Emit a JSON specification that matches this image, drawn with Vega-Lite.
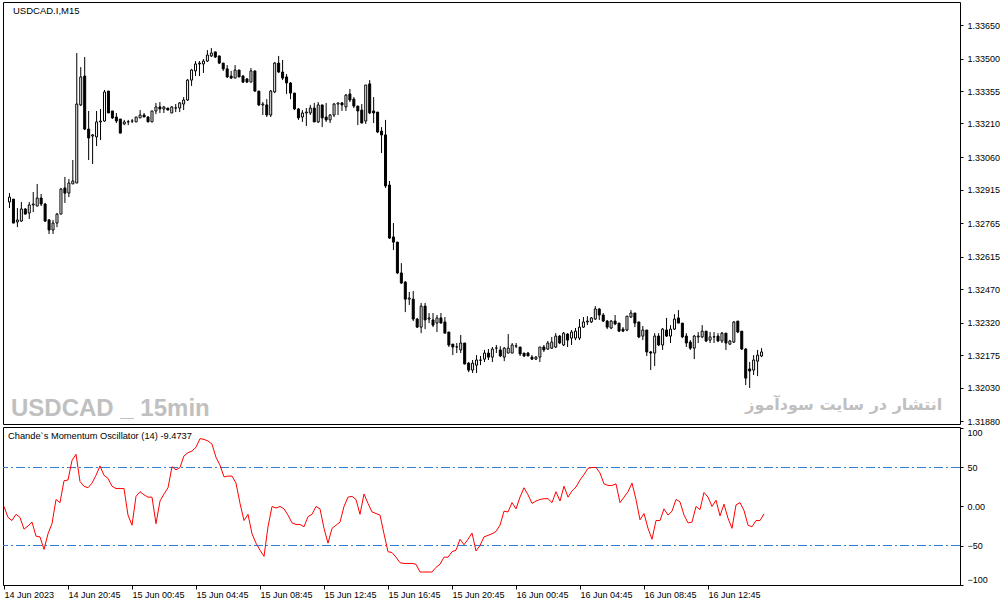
{
"$schema": "https://vega.github.io/schema/vega-lite/v6.json",
"background": "white",
"padding": {"left": 1, "top": 1, "right": 0, "bottom": 0},
"bounds": "flush",
"spacing": 3,
"config": {
  "view": {"stroke": "black", "strokeWidth": 1},
  "font": "Liberation Sans",
  "axis": {"grid": false, "domain": false, "tickColor": "black", "labelColor": "black", "labelFont": "Liberation Sans", "labelFontSize": 9, "title": null, "labelOverlap": false, "tickCount": 30}
},
"datasets": {
"levels": [{"level": 50}, {"level": -50}],
"bars": [
{"t":"2023-06-14T16:45","o":1.32859,"h":1.32899,"l":1.32832,"c":1.32881,"cmo":0},
{"t":"2023-06-14T17:00","o":1.32872,"h":1.32872,"l":1.32765,"c":1.32765,"cmo":-14},
{"t":"2023-06-14T17:15","o":1.32770,"h":1.32832,"l":1.32747,"c":1.32779,"cmo":-18},
{"t":"2023-06-14T17:30","o":1.32774,"h":1.32859,"l":1.32770,"c":1.32828,"cmo":-10},
{"t":"2023-06-14T17:45","o":1.32828,"h":1.32832,"l":1.32805,"c":1.32805,"cmo":-14},
{"t":"2023-06-14T18:00","o":1.32810,"h":1.32859,"l":1.32783,"c":1.32846,"cmo":-29},
{"t":"2023-06-14T18:15","o":1.32846,"h":1.32904,"l":1.32814,"c":1.32850,"cmo":-25},
{"t":"2023-06-14T18:30","o":1.32841,"h":1.32940,"l":1.32841,"c":1.32877,"cmo":-20},
{"t":"2023-06-14T18:45","o":1.32877,"h":1.32895,"l":1.32841,"c":1.32850,"cmo":-38},
{"t":"2023-06-14T19:00","o":1.32850,"h":1.32855,"l":1.32770,"c":1.32774,"cmo":-39},
{"t":"2023-06-14T19:15","o":1.32779,"h":1.32783,"l":1.32716,"c":1.32734,"cmo":-55},
{"t":"2023-06-14T19:30","o":1.32734,"h":1.32779,"l":1.32716,"c":1.32765,"cmo":-35},
{"t":"2023-06-14T19:45","o":1.32765,"h":1.32810,"l":1.32747,"c":1.32805,"cmo":-22},
{"t":"2023-06-14T20:00","o":1.32805,"h":1.32922,"l":1.32805,"c":1.32917,"cmo":9},
{"t":"2023-06-14T20:15","o":1.32922,"h":1.32971,"l":1.32855,"c":1.32899,"cmo":5},
{"t":"2023-06-14T20:30","o":1.32899,"h":1.32962,"l":1.32881,"c":1.32944,"cmo":33},
{"t":"2023-06-14T20:45","o":1.32940,"h":1.33047,"l":1.32940,"c":1.32953,"cmo":34},
{"t":"2023-06-14T21:00","o":1.32944,"h":1.33525,"l":1.32944,"c":1.33297,"cmo":59},
{"t":"2023-06-14T21:15","o":1.33293,"h":1.33462,"l":1.33288,"c":1.33418,"cmo":67},
{"t":"2023-06-14T21:30","o":1.33422,"h":1.33507,"l":1.33181,"c":1.33185,"cmo":32},
{"t":"2023-06-14T21:45","o":1.33185,"h":1.33266,"l":1.33047,"c":1.33145,"cmo":26},
{"t":"2023-06-14T22:00","o":1.33154,"h":1.33163,"l":1.33029,"c":1.33159,"cmo":24},
{"t":"2023-06-14T22:15","o":1.33150,"h":1.33266,"l":1.33109,"c":1.33217,"cmo":30},
{"t":"2023-06-14T22:30","o":1.33217,"h":1.33275,"l":1.33136,"c":1.33221,"cmo":40},
{"t":"2023-06-14T22:45","o":1.33221,"h":1.33360,"l":1.33217,"c":1.33351,"cmo":52},
{"t":"2023-06-14T23:00","o":1.33355,"h":1.33355,"l":1.33257,"c":1.33257,"cmo":40},
{"t":"2023-06-14T23:15","o":1.33266,"h":1.33266,"l":1.33230,"c":1.33235,"cmo":36},
{"t":"2023-06-14T23:30","o":1.33239,"h":1.33257,"l":1.33212,"c":1.33221,"cmo":26},
{"t":"2023-06-14T23:45","o":1.33230,"h":1.33230,"l":1.33167,"c":1.33167,"cmo":23},
{"t":"2023-06-15T00:00","o":1.33208,"h":1.33226,"l":1.33203,"c":1.33217,"cmo":23},
{"t":"2023-06-15T00:15","o":1.33217,"h":1.33226,"l":1.33203,"c":1.33218,"cmo":23},
{"t":"2023-06-15T00:30","o":1.33221,"h":1.33230,"l":1.33212,"c":1.33221,"cmo":-11},
{"t":"2023-06-15T00:45","o":1.33217,"h":1.33239,"l":1.33217,"c":1.33239,"cmo":-24},
{"t":"2023-06-15T01:00","o":1.33235,"h":1.33270,"l":1.33235,"c":1.33248,"cmo":13},
{"t":"2023-06-15T01:15","o":1.33248,"h":1.33257,"l":1.33239,"c":1.33239,"cmo":19},
{"t":"2023-06-15T01:30","o":1.33239,"h":1.33243,"l":1.33217,"c":1.33217,"cmo":15},
{"t":"2023-06-15T01:45","o":1.33217,"h":1.33266,"l":1.33217,"c":1.33266,"cmo":12},
{"t":"2023-06-15T02:00","o":1.33266,"h":1.33302,"l":1.33252,"c":1.33284,"cmo":12},
{"t":"2023-06-15T02:15","o":1.33284,"h":1.33306,"l":1.33257,"c":1.33275,"cmo":-22},
{"t":"2023-06-15T02:30","o":1.33275,"h":1.33288,"l":1.33257,"c":1.33284,"cmo":7},
{"t":"2023-06-15T02:45","o":1.33279,"h":1.33279,"l":1.33270,"c":1.33270,"cmo":16},
{"t":"2023-06-15T03:00","o":1.33257,"h":1.33288,"l":1.33257,"c":1.33284,"cmo":24},
{"t":"2023-06-15T03:15","o":1.33279,"h":1.33297,"l":1.33261,"c":1.33280,"cmo":51},
{"t":"2023-06-15T03:30","o":1.33279,"h":1.33306,"l":1.33261,"c":1.33302,"cmo":47},
{"t":"2023-06-15T03:45","o":1.33297,"h":1.33328,"l":1.33270,"c":1.33315,"cmo":50},
{"t":"2023-06-15T04:00","o":1.33315,"h":1.33409,"l":1.33311,"c":1.33404,"cmo":65},
{"t":"2023-06-15T04:15","o":1.33404,"h":1.33454,"l":1.33378,"c":1.33449,"cmo":69},
{"t":"2023-06-15T04:30","o":1.33445,"h":1.33489,"l":1.33422,"c":1.33476,"cmo":71},
{"t":"2023-06-15T04:45","o":1.33476,"h":1.33489,"l":1.33422,"c":1.33480,"cmo":76},
{"t":"2023-06-15T05:00","o":1.33476,"h":1.33498,"l":1.33436,"c":1.33489,"cmo":87},
{"t":"2023-06-15T05:15","o":1.33489,"h":1.33538,"l":1.33485,"c":1.33516,"cmo":86},
{"t":"2023-06-15T05:30","o":1.33512,"h":1.33547,"l":1.33507,"c":1.33525,"cmo":84},
{"t":"2023-06-15T05:45","o":1.33530,"h":1.33530,"l":1.33503,"c":1.33507,"cmo":80},
{"t":"2023-06-15T06:00","o":1.33512,"h":1.33512,"l":1.33476,"c":1.33480,"cmo":63},
{"t":"2023-06-15T06:15","o":1.33480,"h":1.33480,"l":1.33445,"c":1.33454,"cmo":53},
{"t":"2023-06-15T06:30","o":1.33454,"h":1.33471,"l":1.33413,"c":1.33418,"cmo":38},
{"t":"2023-06-15T06:45","o":1.33422,"h":1.33445,"l":1.33409,"c":1.33413,"cmo":39},
{"t":"2023-06-15T07:00","o":1.33413,"h":1.33471,"l":1.33413,"c":1.33449,"cmo":39},
{"t":"2023-06-15T07:15","o":1.33449,"h":1.33449,"l":1.33418,"c":1.33418,"cmo":30},
{"t":"2023-06-15T07:30","o":1.33422,"h":1.33427,"l":1.33391,"c":1.33395,"cmo":4},
{"t":"2023-06-15T07:45","o":1.33409,"h":1.33413,"l":1.33391,"c":1.33395,"cmo":-18},
{"t":"2023-06-15T08:00","o":1.33395,"h":1.33458,"l":1.33395,"c":1.33445,"cmo":-10},
{"t":"2023-06-15T08:15","o":1.33445,"h":1.33445,"l":1.33351,"c":1.33355,"cmo":-35},
{"t":"2023-06-15T08:30","o":1.33355,"h":1.33355,"l":1.33288,"c":1.33293,"cmo":-47},
{"t":"2023-06-15T08:45","o":1.33293,"h":1.33306,"l":1.33248,"c":1.33297,"cmo":-56},
{"t":"2023-06-15T09:00","o":1.33293,"h":1.33319,"l":1.33239,"c":1.33248,"cmo":-64},
{"t":"2023-06-15T09:15","o":1.33248,"h":1.33360,"l":1.33239,"c":1.33355,"cmo":-26},
{"t":"2023-06-15T09:30","o":1.33351,"h":1.33485,"l":1.33346,"c":1.33480,"cmo":0},
{"t":"2023-06-15T09:45","o":1.33480,"h":1.33512,"l":1.33436,"c":1.33440,"cmo":-2},
{"t":"2023-06-15T10:00","o":1.33440,"h":1.33494,"l":1.33404,"c":1.33413,"cmo":0},
{"t":"2023-06-15T10:15","o":1.33418,"h":1.33431,"l":1.33342,"c":1.33391,"cmo":-3},
{"t":"2023-06-15T10:30","o":1.33391,"h":1.33395,"l":1.33319,"c":1.33346,"cmo":-11},
{"t":"2023-06-15T10:45","o":1.33346,"h":1.33346,"l":1.33270,"c":1.33275,"cmo":-21},
{"t":"2023-06-15T11:00","o":1.33275,"h":1.33279,"l":1.33226,"c":1.33235,"cmo":-23},
{"t":"2023-06-15T11:15","o":1.33239,"h":1.33270,"l":1.33217,"c":1.33257,"cmo":-23},
{"t":"2023-06-15T11:30","o":1.33257,"h":1.33279,"l":1.33199,"c":1.33261,"cmo":-26},
{"t":"2023-06-15T11:45","o":1.33257,"h":1.33293,"l":1.33248,"c":1.33279,"cmo":-13},
{"t":"2023-06-15T12:00","o":1.33279,"h":1.33302,"l":1.33217,"c":1.33217,"cmo":-10},
{"t":"2023-06-15T12:15","o":1.33217,"h":1.33306,"l":1.33212,"c":1.33293,"cmo":0},
{"t":"2023-06-15T12:30","o":1.33293,"h":1.33293,"l":1.33194,"c":1.33235,"cmo":-3},
{"t":"2023-06-15T12:45","o":1.33239,"h":1.33302,"l":1.33217,"c":1.33226,"cmo":-28},
{"t":"2023-06-15T13:00","o":1.33226,"h":1.33252,"l":1.33212,"c":1.33248,"cmo":-47},
{"t":"2023-06-15T13:15","o":1.33248,"h":1.33302,"l":1.33239,"c":1.33297,"cmo":-28},
{"t":"2023-06-15T13:30","o":1.33297,"h":1.33302,"l":1.33248,"c":1.33302,"cmo":-24},
{"t":"2023-06-15T13:45","o":1.33302,"h":1.33306,"l":1.33266,"c":1.33293,"cmo":-20},
{"t":"2023-06-15T14:00","o":1.33284,"h":1.33342,"l":1.33266,"c":1.33337,"cmo":0},
{"t":"2023-06-15T14:15","o":1.33342,"h":1.33364,"l":1.33306,"c":1.33315,"cmo":12},
{"t":"2023-06-15T14:30","o":1.33319,"h":1.33328,"l":1.33279,"c":1.33288,"cmo":13},
{"t":"2023-06-15T14:45","o":1.33288,"h":1.33288,"l":1.33203,"c":1.33266,"cmo":9},
{"t":"2023-06-15T15:00","o":1.33270,"h":1.33297,"l":1.33212,"c":1.33212,"cmo":-10},
{"t":"2023-06-15T15:15","o":1.33221,"h":1.33382,"l":1.33208,"c":1.33382,"cmo":16},
{"t":"2023-06-15T15:30","o":1.33387,"h":1.33404,"l":1.33252,"c":1.33257,"cmo":4},
{"t":"2023-06-15T15:45","o":1.33266,"h":1.33328,"l":1.33212,"c":1.33257,"cmo":-7},
{"t":"2023-06-15T16:00","o":1.33261,"h":1.33261,"l":1.33167,"c":1.33172,"cmo":-9},
{"t":"2023-06-15T16:15","o":1.33176,"h":1.33194,"l":1.33078,"c":1.33159,"cmo":-11},
{"t":"2023-06-15T16:30","o":1.33159,"h":1.33226,"l":1.32922,"c":1.32931,"cmo":-35},
{"t":"2023-06-15T16:45","o":1.32935,"h":1.32953,"l":1.32694,"c":1.32698,"cmo":-58},
{"t":"2023-06-15T17:00","o":1.32703,"h":1.32765,"l":1.32644,"c":1.32680,"cmo":-59},
{"t":"2023-06-15T17:15","o":1.32680,"h":1.32680,"l":1.32537,"c":1.32542,"cmo":-65},
{"t":"2023-06-15T17:30","o":1.32542,"h":1.32586,"l":1.32493,"c":1.32497,"cmo":-72},
{"t":"2023-06-15T17:45","o":1.32501,"h":1.32506,"l":1.32367,"c":1.32425,"cmo":-73},
{"t":"2023-06-15T18:00","o":1.32425,"h":1.32457,"l":1.32399,"c":1.32430,"cmo":-73},
{"t":"2023-06-15T18:15","o":1.32425,"h":1.32461,"l":1.32327,"c":1.32336,"cmo":-73},
{"t":"2023-06-15T18:30","o":1.32336,"h":1.32341,"l":1.32296,"c":1.32300,"cmo":-74},
{"t":"2023-06-15T18:45","o":1.32300,"h":1.32408,"l":1.32273,"c":1.32394,"cmo":-84},
{"t":"2023-06-15T19:00","o":1.32394,"h":1.32408,"l":1.32291,"c":1.32332,"cmo":-84},
{"t":"2023-06-15T19:15","o":1.32336,"h":1.32363,"l":1.32318,"c":1.32341,"cmo":-84},
{"t":"2023-06-15T19:30","o":1.32332,"h":1.32363,"l":1.32300,"c":1.32309,"cmo":-84},
{"t":"2023-06-15T19:45","o":1.32318,"h":1.32354,"l":1.32278,"c":1.32341,"cmo":-78},
{"t":"2023-06-15T20:00","o":1.32341,"h":1.32363,"l":1.32318,"c":1.32318,"cmo":-74},
{"t":"2023-06-15T20:15","o":1.32323,"h":1.32345,"l":1.32273,"c":1.32273,"cmo":-65},
{"t":"2023-06-15T20:30","o":1.32278,"h":1.32278,"l":1.32211,"c":1.32220,"cmo":-65},
{"t":"2023-06-15T20:45","o":1.32224,"h":1.32224,"l":1.32175,"c":1.32211,"cmo":-58},
{"t":"2023-06-15T21:00","o":1.32211,"h":1.32229,"l":1.32184,"c":1.32212,"cmo":-56},
{"t":"2023-06-15T21:15","o":1.32198,"h":1.32265,"l":1.32184,"c":1.32229,"cmo":-42},
{"t":"2023-06-15T21:30","o":1.32229,"h":1.32229,"l":1.32135,"c":1.32135,"cmo":-49},
{"t":"2023-06-15T21:45","o":1.32139,"h":1.32144,"l":1.32099,"c":1.32108,"cmo":-42},
{"t":"2023-06-15T22:00","o":1.32108,"h":1.32153,"l":1.32095,"c":1.32139,"cmo":-34},
{"t":"2023-06-15T22:15","o":1.32130,"h":1.32175,"l":1.32095,"c":1.32153,"cmo":-57},
{"t":"2023-06-15T22:30","o":1.32153,"h":1.32171,"l":1.32130,"c":1.32152,"cmo":-50},
{"t":"2023-06-15T22:45","o":1.32157,"h":1.32198,"l":1.32144,"c":1.32184,"cmo":-39},
{"t":"2023-06-15T23:00","o":1.32184,"h":1.32202,"l":1.32153,"c":1.32166,"cmo":-37},
{"t":"2023-06-15T23:15","o":1.32166,"h":1.32211,"l":1.32144,"c":1.32202,"cmo":-35},
{"t":"2023-06-15T23:30","o":1.32206,"h":1.32220,"l":1.32184,"c":1.32207,"cmo":-32},
{"t":"2023-06-15T23:45","o":1.32198,"h":1.32215,"l":1.32166,"c":1.32171,"cmo":-24},
{"t":"2023-06-16T00:00","o":1.32166,"h":1.32211,"l":1.32148,"c":1.32206,"cmo":-6},
{"t":"2023-06-16T00:15","o":1.32184,"h":1.32269,"l":1.32184,"c":1.32206,"cmo":-7},
{"t":"2023-06-16T00:30","o":1.32184,"h":1.32229,"l":1.32184,"c":1.32220,"cmo":5},
{"t":"2023-06-16T00:45","o":1.32215,"h":1.32229,"l":1.32206,"c":1.32216,"cmo":-3},
{"t":"2023-06-16T01:00","o":1.32211,"h":1.32211,"l":1.32171,"c":1.32180,"cmo":12},
{"t":"2023-06-16T01:15","o":1.32184,"h":1.32184,"l":1.32166,"c":1.32171,"cmo":24},
{"t":"2023-06-16T01:30","o":1.32184,"h":1.32189,"l":1.32171,"c":1.32171,"cmo":15},
{"t":"2023-06-16T01:45","o":1.32166,"h":1.32175,"l":1.32153,"c":1.32157,"cmo":4},
{"t":"2023-06-16T02:00","o":1.32157,"h":1.32171,"l":1.32153,"c":1.32166,"cmo":7},
{"t":"2023-06-16T02:15","o":1.32166,"h":1.32211,"l":1.32144,"c":1.32211,"cmo":9},
{"t":"2023-06-16T02:30","o":1.32211,"h":1.32220,"l":1.32189,"c":1.32198,"cmo":10},
{"t":"2023-06-16T02:45","o":1.32202,"h":1.32238,"l":1.32198,"c":1.32229,"cmo":10},
{"t":"2023-06-16T03:00","o":1.32206,"h":1.32256,"l":1.32202,"c":1.32233,"cmo":5},
{"t":"2023-06-16T03:15","o":1.32211,"h":1.32273,"l":1.32206,"c":1.32260,"cmo":19},
{"t":"2023-06-16T03:30","o":1.32260,"h":1.32265,"l":1.32224,"c":1.32229,"cmo":7},
{"t":"2023-06-16T03:45","o":1.32220,"h":1.32278,"l":1.32215,"c":1.32273,"cmo":26},
{"t":"2023-06-16T04:00","o":1.32269,"h":1.32273,"l":1.32211,"c":1.32242,"cmo":12},
{"t":"2023-06-16T04:15","o":1.32251,"h":1.32287,"l":1.32220,"c":1.32278,"cmo":20},
{"t":"2023-06-16T04:30","o":1.32251,"h":1.32296,"l":1.32242,"c":1.32282,"cmo":25},
{"t":"2023-06-16T04:45","o":1.32251,"h":1.32336,"l":1.32242,"c":1.32300,"cmo":34},
{"t":"2023-06-16T05:00","o":1.32300,"h":1.32345,"l":1.32296,"c":1.32323,"cmo":41},
{"t":"2023-06-16T05:15","o":1.32323,"h":1.32349,"l":1.32309,"c":1.32327,"cmo":49},
{"t":"2023-06-16T05:30","o":1.32323,"h":1.32345,"l":1.32318,"c":1.32341,"cmo":50},
{"t":"2023-06-16T05:45","o":1.32336,"h":1.32394,"l":1.32332,"c":1.32381,"cmo":50},
{"t":"2023-06-16T06:00","o":1.32381,"h":1.32385,"l":1.32332,"c":1.32354,"cmo":43},
{"t":"2023-06-16T06:15","o":1.32354,"h":1.32363,"l":1.32323,"c":1.32327,"cmo":29},
{"t":"2023-06-16T06:30","o":1.32327,"h":1.32332,"l":1.32291,"c":1.32300,"cmo":27},
{"t":"2023-06-16T06:45","o":1.32296,"h":1.32332,"l":1.32291,"c":1.32327,"cmo":27},
{"t":"2023-06-16T07:00","o":1.32327,"h":1.32354,"l":1.32309,"c":1.32314,"cmo":29},
{"t":"2023-06-16T07:15","o":1.32318,"h":1.32318,"l":1.32278,"c":1.32282,"cmo":5},
{"t":"2023-06-16T07:30","o":1.32291,"h":1.32300,"l":1.32278,"c":1.32282,"cmo":12},
{"t":"2023-06-16T07:45","o":1.32287,"h":1.32349,"l":1.32282,"c":1.32349,"cmo":19},
{"t":"2023-06-16T08:00","o":1.32345,"h":1.32376,"l":1.32341,"c":1.32363,"cmo":30},
{"t":"2023-06-16T08:15","o":1.32363,"h":1.32363,"l":1.32300,"c":1.32318,"cmo":9},
{"t":"2023-06-16T08:30","o":1.32323,"h":1.32323,"l":1.32251,"c":1.32256,"cmo":-17},
{"t":"2023-06-16T08:45","o":1.32260,"h":1.32305,"l":1.32242,"c":1.32287,"cmo":-9},
{"t":"2023-06-16T09:00","o":1.32287,"h":1.32287,"l":1.32171,"c":1.32189,"cmo":-28},
{"t":"2023-06-16T09:15","o":1.32189,"h":1.32193,"l":1.32108,"c":1.32184,"cmo":-42},
{"t":"2023-06-16T09:30","o":1.32184,"h":1.32273,"l":1.32126,"c":1.32260,"cmo":-18},
{"t":"2023-06-16T09:45","o":1.32260,"h":1.32273,"l":1.32215,"c":1.32220,"cmo":-18},
{"t":"2023-06-16T10:00","o":1.32220,"h":1.32296,"l":1.32198,"c":1.32291,"cmo":-3},
{"t":"2023-06-16T10:15","o":1.32287,"h":1.32341,"l":1.32256,"c":1.32260,"cmo":-11},
{"t":"2023-06-16T10:30","o":1.32260,"h":1.32309,"l":1.32229,"c":1.32291,"cmo":-6},
{"t":"2023-06-16T10:45","o":1.32291,"h":1.32358,"l":1.32287,"c":1.32336,"cmo":9},
{"t":"2023-06-16T11:00","o":1.32341,"h":1.32376,"l":1.32318,"c":1.32318,"cmo":6},
{"t":"2023-06-16T11:15","o":1.32318,"h":1.32318,"l":1.32251,"c":1.32256,"cmo":-11},
{"t":"2023-06-16T11:30","o":1.32260,"h":1.32273,"l":1.32211,"c":1.32229,"cmo":-21},
{"t":"2023-06-16T11:45","o":1.32233,"h":1.32242,"l":1.32198,"c":1.32206,"cmo":-20},
{"t":"2023-06-16T12:00","o":1.32206,"h":1.32265,"l":1.32157,"c":1.32260,"cmo":0},
{"t":"2023-06-16T12:15","o":1.32256,"h":1.32278,"l":1.32229,"c":1.32260,"cmo":-4},
{"t":"2023-06-16T12:30","o":1.32256,"h":1.32309,"l":1.32251,"c":1.32282,"cmo":18},
{"t":"2023-06-16T12:45","o":1.32282,"h":1.32282,"l":1.32233,"c":1.32238,"cmo":12},
{"t":"2023-06-16T13:00","o":1.32242,"h":1.32278,"l":1.32229,"c":1.32256,"cmo":0},
{"t":"2023-06-16T13:15","o":1.32256,"h":1.32278,"l":1.32229,"c":1.32257,"cmo":8},
{"t":"2023-06-16T13:30","o":1.32260,"h":1.32273,"l":1.32233,"c":1.32238,"cmo":-12},
{"t":"2023-06-16T13:45","o":1.32238,"h":1.32278,"l":1.32229,"c":1.32273,"cmo":3},
{"t":"2023-06-16T14:00","o":1.32273,"h":1.32273,"l":1.32198,"c":1.32229,"cmo":-15},
{"t":"2023-06-16T14:15","o":1.32224,"h":1.32242,"l":1.32220,"c":1.32238,"cmo":-28},
{"t":"2023-06-16T14:30","o":1.32233,"h":1.32327,"l":1.32229,"c":1.32323,"cmo":2},
{"t":"2023-06-16T14:45","o":1.32327,"h":1.32327,"l":1.32273,"c":1.32278,"cmo":5},
{"t":"2023-06-16T15:00","o":1.32282,"h":1.32282,"l":1.32198,"c":1.32202,"cmo":-5},
{"t":"2023-06-16T15:15","o":1.32202,"h":1.32206,"l":1.32041,"c":1.32072,"cmo":-24},
{"t":"2023-06-16T15:30","o":1.32113,"h":1.32144,"l":1.32028,"c":1.32104,"cmo":-26},
{"t":"2023-06-16T15:45","o":1.32108,"h":1.32175,"l":1.32086,"c":1.32153,"cmo":-18},
{"t":"2023-06-16T16:00","o":1.32148,"h":1.32198,"l":1.32081,"c":1.32175,"cmo":-18},
{"t":"2023-06-16T16:15","o":1.32171,"h":1.32206,"l":1.32166,"c":1.32189,"cmo":-9.4737}
]
},
"vconcat": [
{
  "width": 957,
  "height": 422,
  "layer": [
    {
      "data": {"name": "bars"},
      "mark": {"type": "rule", "color": "black", "strokeWidth": 1, "xOffset": 0.5},
      "encoding": {
        "x": {"field": "t", "type": "temporal", "axis": null,
          "scale": {"domain": [{"year": 2023, "month": 6, "date": 14, "hours": 16, "minutes": 41, "seconds": 15}, {"year": 2023, "month": 6, "date": 17, "hours": 4, "minutes": 30}]}},
        "y": {"field": "h", "type": "quantitative",
          "scale": {"domain": [1.31867, 1.33753], "zero": false, "nice": false},
          "axis": {"orient": "right", "values": [1.3188, 1.3203, 1.32175, 1.3232, 1.3247, 1.32615, 1.32765, 1.32915, 1.3306, 1.3321, 1.33355, 1.335, 1.3365], "format": ".5f", "tickSize": 3, "labelPadding": 4, "title": null, "labelOverlap": false, "tickCount": 30}},
        "y2": {"field": "l"}
      }
    },
    {
      "data": {"name": "bars"},
      "mark": {"type": "bar", "width": 2, "stroke": "black", "strokeWidth": 1, "xOffset": 0.5},
      "encoding": {
        "x": {"field": "t", "type": "temporal", "axis": null,
          "scale": {"domain": [{"year": 2023, "month": 6, "date": 14, "hours": 16, "minutes": 41, "seconds": 15}, {"year": 2023, "month": 6, "date": 17, "hours": 4, "minutes": 30}]}},
        "y": {"field": "o", "type": "quantitative",
          "scale": {"domain": [1.31867, 1.33753], "zero": false, "nice": false},
          "axis": {"orient": "right", "values": [1.3188, 1.3203, 1.32175, 1.3232, 1.3247, 1.32615, 1.32765, 1.32915, 1.3306, 1.3321, 1.33355, 1.335, 1.3365], "format": ".5f", "tickSize": 3, "labelPadding": 4, "title": null, "labelOverlap": false, "tickCount": 30}},
        "y2": {"field": "c"},
        "fill": {"condition": {"test": "datum.c >= datum.o", "value": "white"}, "value": "black"}
      }
    },
    {
      "data": {"values": [{"label": "USDCAD.I,M15"}]},
      "mark": {"type": "text", "align": "left", "baseline": "middle", "dx": 4, "font": "Liberation Sans", "fontSize": 9.5, "color": "black"},
      "encoding": {
        "x": {"datum": {"year": 2023, "month": 6, "date": 14, "hours": 16, "minutes": 45}, "type": "temporal", "axis": null,
          "scale": {"domain": [{"year": 2023, "month": 6, "date": 14, "hours": 16, "minutes": 41, "seconds": 15}, {"year": 2023, "month": 6, "date": 17, "hours": 4, "minutes": 30}]}},
        "y": {"datum": 1.33715, "type": "quantitative", "scale": {"domain": [1.31867, 1.33753], "zero": false, "nice": false}},
        "text": {"field": "label"}
      }
    },
    {
      "data": {"values": [{"label": "USDCAD _ 15min"}]},
      "mark": {"type": "text", "align": "left", "baseline": "alphabetic", "dx": 2, "font": "Liberation Sans", "fontSize": 24, "fontWeight": "bold", "color": "#c0c0c0"},
      "encoding": {
        "x": {"datum": {"year": 2023, "month": 6, "date": 14, "hours": 16, "minutes": 45}, "type": "temporal", "axis": null,
          "scale": {"domain": [{"year": 2023, "month": 6, "date": 14, "hours": 16, "minutes": 41, "seconds": 15}, {"year": 2023, "month": 6, "date": 17, "hours": 4, "minutes": 30}]}},
        "y": {"datum": 1.31902, "type": "quantitative", "scale": {"domain": [1.31867, 1.33753], "zero": false, "nice": false}},
        "text": {"field": "label"}
      }
    },
    {
      "data": {"values": [{"label": "انتشار در سایت سودآموز"}]},
      "mark": {"type": "text", "align": "right", "baseline": "alphabetic", "dx": 3, "font": "DejaVu Sans", "fontSize": 16, "fontWeight": "bold", "color": "#c0c0c0"},
      "encoding": {
        "x": {"datum": {"year": 2023, "month": 6, "date": 17, "hours": 3, "minutes": 30}, "type": "temporal", "axis": null,
          "scale": {"domain": [{"year": 2023, "month": 6, "date": 14, "hours": 16, "minutes": 41, "seconds": 15}, {"year": 2023, "month": 6, "date": 17, "hours": 4, "minutes": 30}]}},
        "y": {"datum": 1.31929, "type": "quantitative", "scale": {"domain": [1.31867, 1.33753], "zero": false, "nice": false}},
        "text": {"field": "label"}
      }
    }
  ]
},
{
  "width": 957,
  "height": 158,
  "layer": [
    {
      "data": {"name": "levels"},
      "mark": {"type": "rule", "color": "#2f7fd8", "strokeWidth": 1, "strokeDash": [9, 3, 2, 3]},
      "encoding": {
        "y": {"field": "level", "type": "quantitative",
          "scale": {"domain": [-100.64, 101.92], "zero": false, "nice": false},
          "axis": {"orient": "right", "values": [-100, -50, 0, 50, 100], "labelExpr": "datum.value == 0 ? '0.00' : datum.label", "tickSize": 3, "labelPadding": 4, "title": null, "labelOverlap": false, "tickCount": 30,
            "labelBaseline": {"condition": [{"test": "datum.value == 100", "value": "top"}, {"test": "datum.value == -100", "value": "bottom"}], "value": "middle"}}}
      }
    },
    {
      "data": {"name": "bars"},
      "mark": {"type": "line", "color": "#ff0000", "strokeWidth": 1},
      "encoding": {
        "x": {"field": "t", "type": "temporal",
          "scale": {"domain": [{"year": 2023, "month": 6, "date": 14, "hours": 16, "minutes": 41, "seconds": 15}, {"year": 2023, "month": 6, "date": 17, "hours": 4, "minutes": 30}]},
          "axis": {"values": [
            {"year": 2023, "month": 6, "date": 14, "hours": 16, "minutes": 45},
            {"year": 2023, "month": 6, "date": 14, "hours": 20, "minutes": 45},
            {"year": 2023, "month": 6, "date": 15, "hours": 0, "minutes": 45},
            {"year": 2023, "month": 6, "date": 15, "hours": 4, "minutes": 45},
            {"year": 2023, "month": 6, "date": 15, "hours": 8, "minutes": 45},
            {"year": 2023, "month": 6, "date": 15, "hours": 12, "minutes": 45},
            {"year": 2023, "month": 6, "date": 15, "hours": 16, "minutes": 45},
            {"year": 2023, "month": 6, "date": 15, "hours": 20, "minutes": 45},
            {"year": 2023, "month": 6, "date": 16, "hours": 0, "minutes": 45},
            {"year": 2023, "month": 6, "date": 16, "hours": 4, "minutes": 45},
            {"year": 2023, "month": 6, "date": 16, "hours": 8, "minutes": 45},
            {"year": 2023, "month": 6, "date": 16, "hours": 12, "minutes": 45}],
            "labelExpr": "date(datum.value) == 14 && hours(datum.value) == 16 ? '14 Jun 2023' : timeFormat(datum.value, '%d %b %H:%M')",
            "tickSize": 4, "labelPadding": 1, "labelAlign": "left", "labelFlush": false, "labelOverlap": false, "labelBound": false, "title": null, "tickCount": 30}},
        "y": {"field": "cmo", "type": "quantitative",
          "scale": {"domain": [-100.64, 101.92], "zero": false, "nice": false},
          "axis": {"orient": "right", "values": [-100, -50, 0, 50, 100], "labelExpr": "datum.value == 0 ? '0.00' : datum.label", "tickSize": 3, "labelPadding": 4, "title": null, "labelOverlap": false, "tickCount": 30,
            "labelBaseline": {"condition": [{"test": "datum.value == 100", "value": "top"}, {"test": "datum.value == -100", "value": "bottom"}], "value": "middle"}}}
      }
    },
    {
      "data": {"values": [{"label": "Chande`s Momentum Oscillator (14) -9.4737"}]},
      "mark": {"type": "text", "align": "left", "baseline": "middle", "dx": 4, "font": "Liberation Sans", "fontSize": 9.3, "color": "black"},
      "encoding": {
        "x": {"datum": {"year": 2023, "month": 6, "date": 14, "hours": 16, "minutes": 45}, "type": "temporal",
          "scale": {"domain": [{"year": 2023, "month": 6, "date": 14, "hours": 16, "minutes": 41, "seconds": 15}, {"year": 2023, "month": 6, "date": 17, "hours": 4, "minutes": 30}]}},
        "y": {"datum": 90, "type": "quantitative", "scale": {"domain": [-100.64, 101.92], "zero": false, "nice": false}},
        "text": {"field": "label"}
      }
    }
  ]
}
]
}
